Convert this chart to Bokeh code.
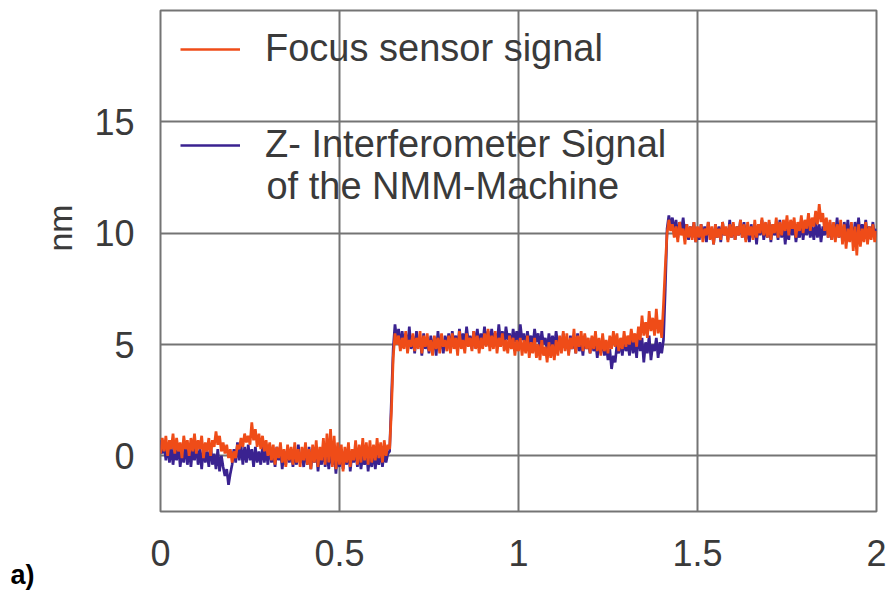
from bokeh.plotting import figure
from bokeh.models import Range1d, FixedTicker, Legend, LegendItem, Label, Title
from bokeh.embed import file_html
from bokeh.resources import INLINE

# sample times (s): 401 samples, 0.005 s apart, from 0 to 2
t_step = 0.005
n_samples = 401
t = [round(i * t_step, 3) for i in range(n_samples)]

# Z-interferometer signal of the NMM machine (nm)
z_interferometer = [
    0.7, 0.1, 0.6, -0.2, 0.5, -0.3, 0.4, -0.4, 0.3, -0.2, 0.5, -0.5, 0.2, -0.3, 0.6, -0.4, 0.3, -0.5, 0.4, -0.2,
    0.5, -0.4, 0.3, -0.6, 0.4, -0.3, 0.2, -0.5, 0.5, -0.4, 0.1, -0.6, 0.3, -0.7, 0.0, -0.5, -0.9, -0.6, -1.3, -0.8,
    -0.4, 0.3, -0.3, 0.6, -0.2, 0.5, -0.4, 0.4, -0.3, 0.5, -0.2, 0.3, -0.5, 0.4, -0.3, 0.2, -0.4, 0.4, -0.3, 0.3,
    -0.4, 0.5, -0.3, 0.2, -0.5, 0.4, -0.2, 0.3, -0.6, 0.2, -0.4, 0.4, -0.3, 0.3, -0.5, 0.2, -0.4, 0.5, -0.3, 0.1,
    -0.5, 0.3, -0.4, 0.4, -0.6, 0.2, -0.3, 0.3, -0.7, 0.1, -0.4, 0.4, -0.5, 0.2, -0.6, 0.3, -0.4, 0.2, -0.8, 0.1,
    -0.5, 0.3, -0.6, 0.2, -0.4, 0.4, -0.7, 0.1, -0.3, 0.3, -0.5, 0.2, -0.6, 0.0, -0.4, 0.3, -0.7, 0.1, -0.5, 0.2,
    -0.6, 0.1, -0.4, 0.3, -0.5, 0.2, -0.3, 0.1, 0.2, 2.5, 4.8, 5.9, 5.2, 5.7, 4.9, 5.6, 5.0, 5.5, 4.7, 5.8,
    4.8, 5.4, 4.6, 5.6, 4.9, 5.3, 4.5, 5.5, 4.8, 5.2, 4.6, 5.4, 4.7, 5.3, 4.5, 5.6, 4.8, 5.2, 4.6, 5.4,
    4.9, 5.5, 4.7, 5.6, 5.0, 5.4, 4.8, 5.7, 5.0, 5.5, 4.9, 5.8, 5.1, 5.4, 4.8, 5.6, 5.0, 5.7, 4.9, 5.5,
    5.0, 5.8, 5.1, 5.6, 4.9, 5.7, 5.2, 5.5, 5.0, 5.9, 5.1, 5.6, 5.0, 5.8, 5.2, 5.5, 4.9, 5.7, 5.1, 5.6,
    5.0, 5.9, 5.2, 5.5, 4.8, 5.6, 5.0, 5.4, 4.9, 5.7, 5.1, 5.5, 4.8, 5.6, 5.0, 5.3, 4.7, 5.5, 4.9, 5.4,
    4.8, 5.6, 5.0, 5.3, 4.7, 5.5, 4.9, 5.2, 4.6, 5.4, 4.8, 5.3, 4.6, 5.5, 4.7, 5.2, 4.5, 5.4, 4.8, 5.1,
    4.6, 5.3, 4.7, 5.2, 4.4, 5.1, 4.6, 5.3, 4.5, 5.0, 4.3, 4.8, 3.9, 4.5, 4.2, 5.0, 4.6, 5.2, 4.5, 5.3,
    4.7, 5.1, 4.5, 5.4, 4.6, 5.2, 4.4, 5.6, 4.7, 5.3, 4.2, 5.1, 4.6, 5.4, 4.3, 5.0, 4.7, 5.3, 4.4, 5.1,
    4.6, 5.2, 7.5, 10.2, 10.8, 10.3, 10.7, 10.0, 10.6, 9.8, 10.5, 10.1, 10.7, 9.9, 10.4, 9.7, 10.3, 9.8, 10.5, 9.6,
    10.2, 9.7, 10.4, 9.8, 10.3, 9.6, 10.5, 9.9, 10.2, 9.5, 10.4, 9.8, 10.3, 9.6, 10.5, 9.9, 10.2, 9.7, 10.6, 9.8,
    10.4, 9.7, 10.3, 9.9, 10.6, 9.8, 10.5, 9.7, 10.2, 9.6, 10.4, 9.8, 10.3, 9.5, 10.4, 9.9, 10.6, 9.7, 10.3, 9.8,
    10.5, 9.6, 10.4, 9.9, 10.3, 9.7, 10.6, 9.8, 10.4, 9.5, 10.3, 9.7, 10.5, 9.9, 10.4, 9.6, 10.2, 9.8, 10.5, 9.7,
    10.4, 9.9, 10.6, 9.8, 10.3, 9.7, 10.5, 9.8, 10.4, 9.6, 10.3, 9.9, 10.6, 9.8, 10.5, 9.7, 10.4, 9.9, 10.7, 9.8,
    10.3, 9.7, 10.5, 9.9, 10.6, 9.8, 10.4, 9.6, 10.5, 9.9, 10.7, 9.8, 10.4, 10.0, 10.6, 9.8, 10.3, 9.9, 10.5, 9.8,
    10.2,
]

# focus sensor signal (nm)
focus_sensor = [
    0.1, 0.8, 0.2, 0.9, 0.0, 0.7, 0.3, 1.0, 0.1, 0.8, 0.2, 0.6, -0.1, 0.9, 0.3, 0.7, 0.0, 0.8, 0.2, 1.0,
    0.1, 0.7, 0.3, 0.9, -0.1, 0.6, 0.2, 0.8, 0.0, 0.7, 0.4, 1.1, 0.5, 0.9, 0.2, 0.6, 0.1, 0.5, -0.1, 0.3,
    -0.3, 0.2, -0.1, 0.5, 0.3, 0.8, 0.4, 1.0, 0.6, 0.9, 0.5, 1.5, 0.7, 1.2, 0.4, 1.0, 0.3, 0.9, 0.2, 0.7,
    0.0, 0.6, -0.2, 0.5, -0.4, 0.4, -0.1, 0.6, -0.3, 0.3, -0.5, 0.5, -0.2, 0.4, -0.4, 0.6, -0.3, 0.3, -0.5, 0.4,
    -0.2, 0.6, -0.4, 0.3, -0.6, 0.5, -0.3, 0.7, -0.5, 0.4, -0.2, 0.8, -0.4, 1.0, -0.3, 1.2, -0.5, 0.9, -0.6, 0.6,
    -0.4, 0.5, -0.7, 0.4, -0.3, 0.6, -0.5, 0.3, -0.2, 0.7, -0.4, 0.5, -0.3, 0.8, -0.2, 0.6, -0.4, 0.7, -0.3, 0.5,
    -0.2, 0.8, -0.1, 0.6, -0.3, 0.7, 0.0, 0.5, 0.3, 2.0, 4.4, 5.5, 5.0, 5.4, 4.7, 5.3, 4.8, 5.6, 4.6, 5.2,
    4.9, 5.5, 4.7, 5.3, 4.8, 5.6, 4.6, 5.4, 4.9, 5.5, 4.7, 5.2, 4.5, 5.4, 4.8, 5.3, 4.6, 5.5, 4.9, 5.2,
    4.7, 5.4, 4.6, 5.5, 4.8, 5.3, 4.5, 5.6, 4.8, 5.2, 4.6, 5.5, 4.9, 5.3, 4.7, 5.6, 4.8, 5.4, 4.6, 5.3,
    4.8, 5.5, 4.9, 5.7, 4.7, 5.4, 4.8, 5.6, 4.6, 5.3, 4.9, 5.5, 4.7, 5.2, 4.6, 5.4, 4.8, 5.3, 4.5, 5.2,
    4.7, 5.3, 4.5, 5.2, 4.6, 5.4, 4.4, 5.1, 4.6, 5.3, 4.4, 5.0, 4.3, 5.2, 4.5, 4.9, 4.2, 5.1, 4.4, 5.0,
    4.3, 5.2, 4.5, 5.4, 4.6, 5.6, 4.7, 5.5, 4.5, 5.3, 4.8, 5.7, 4.6, 5.4, 4.9, 5.6, 4.7, 5.5, 4.8, 5.3,
    4.6, 5.4, 4.8, 5.6, 4.7, 5.3, 4.5, 5.5, 4.7, 5.2, 4.6, 5.4, 4.8, 5.6, 4.9, 5.5, 4.7, 5.3, 4.8, 5.6,
    4.9, 5.4, 5.0, 5.7, 5.1, 5.5, 4.9, 5.8, 5.2, 6.3, 5.4, 6.0, 5.3, 6.5, 5.6, 6.2, 5.4, 6.6, 5.5, 6.1,
    5.3, 6.8, 8.5, 10.0, 10.6, 10.1, 10.4, 9.8, 10.3, 9.6, 10.5, 9.9, 10.2, 9.5, 10.4, 9.8, 10.3, 9.7, 10.5, 9.6,
    10.3, 9.8, 10.4, 9.6, 10.2, 9.9, 10.5, 9.7, 10.3, 9.5, 10.4, 9.8, 10.2, 9.7, 10.5, 9.9, 10.3, 9.6, 10.4, 9.8,
    10.5, 9.7, 10.3, 9.9, 10.6, 9.8, 10.4, 9.6, 10.5, 9.9, 10.3, 9.7, 10.6, 9.8, 10.4, 10.0, 10.7, 9.9, 10.5, 9.8,
    10.6, 9.7, 10.4, 10.0, 10.7, 9.8, 10.5, 9.9, 10.6, 10.1, 10.8, 9.9, 10.6, 10.2, 10.7, 9.8, 10.5, 10.1, 10.8, 10.0,
    10.6, 10.2, 10.9, 10.1, 10.7, 10.3, 11.0, 10.4, 11.3, 10.5, 10.9, 10.1, 10.7, 9.8, 10.6, 9.7, 10.5, 9.6, 10.4, 9.8,
    10.6, 9.5, 10.4, 9.3, 10.2, 9.6, 10.5, 9.2, 10.3, 9.0, 10.4, 9.4, 10.2, 9.6, 10.5, 9.5, 10.3, 9.7, 10.4, 9.6,
    10.1,
]

x_ticks = [0, 0.5, 1, 1.5, 2]
y_ticks = [0, 5, 10, 15]
y_grid = [0, 5, 10, 15, 20]

ORANGE = "#EF4C18"
BLUE = "#3A2290"
GRID = "#747474"
TEXT = "#3a3a3a"
FONT = "Liberation Sans"
NBSP = "\u00a0"

p = figure(width=890, height=591, output_backend="svg", toolbar_location=None,
           x_range=Range1d(0, 2), y_range=Range1d(-2.5, 20),
           min_border_left=160, min_border_right=14, min_border_top=10,
           min_border_bottom=80)
p.background_fill_color = "white"
p.border_fill_color = "white"
p.outline_line_color = GRID
p.outline_line_width = 2

p.xaxis.ticker = FixedTicker(ticks=x_ticks)
p.yaxis.ticker = FixedTicker(ticks=y_ticks)
p.xgrid.ticker = FixedTicker(ticks=x_ticks)
p.ygrid.ticker = FixedTicker(ticks=y_grid)
for g in (p.xgrid, p.ygrid):
    g.grid_line_color = GRID
    g.grid_line_width = 2
    g.grid_line_alpha = 1.0

for ax in (p.xaxis, p.yaxis):
    ax.axis_line_color = None
    ax.major_tick_line_color = None
    ax.minor_tick_line_color = None
    ax.major_label_text_font = FONT
    ax.major_label_text_font_size = "36px"
    ax.major_label_text_color = TEXT

p.xaxis.major_label_standoff = 22
p.yaxis.major_label_standoff = 20
p.yaxis.major_label_orientation = "horizontal"

# y axis title "nm" (leading no-break spaces lift it above the frame centre)
p.yaxis.axis_label = NBSP * 7 + "nm"
p.yaxis.axis_label_text_font = FONT
p.yaxis.axis_label_text_font_size = "34px"
p.yaxis.axis_label_text_font_style = "normal"
p.yaxis.axis_label_text_color = TEXT
p.yaxis.axis_label_standoff = 12

# panel tag "a)" at the bottom left
p.add_layout(Title(text="a)", align="left", offset=-150, standoff=-21,
                   text_font=FONT, text_font_size="27px", text_font_style="bold",
                   text_color="#000000"), "below")

r_blue = p.line(t, z_interferometer, line_color=BLUE, line_width=2.7)
r_orange = p.line(t, focus_sensor, line_color=ORANGE, line_width=2.7)

legend = Legend(items=[
    LegendItem(label="Focus sensor signal", renderers=[r_orange]),
    LegendItem(label="Z- Interferometer Signal", renderers=[r_blue]),
], location=(20, 345))
legend.background_fill_alpha = 0
legend.border_line_color = None
legend.padding = 0
legend.margin = 0
legend.spacing = 53
legend.label_height = 42
legend.glyph_height = 42
legend.glyph_width = 60
legend.label_standoff = 25
legend.label_text_font = FONT
legend.label_text_font_size = "38px"
legend.label_text_color = TEXT
p.add_layout(legend)

p.add_layout(Label(x=0.296, y=12.1, text="of the NMM-Machine",
                   text_font=FONT, text_font_size="38px", text_color=TEXT,
                   text_baseline="middle"))

open("out.html", "w").write(file_html(p, INLINE))
